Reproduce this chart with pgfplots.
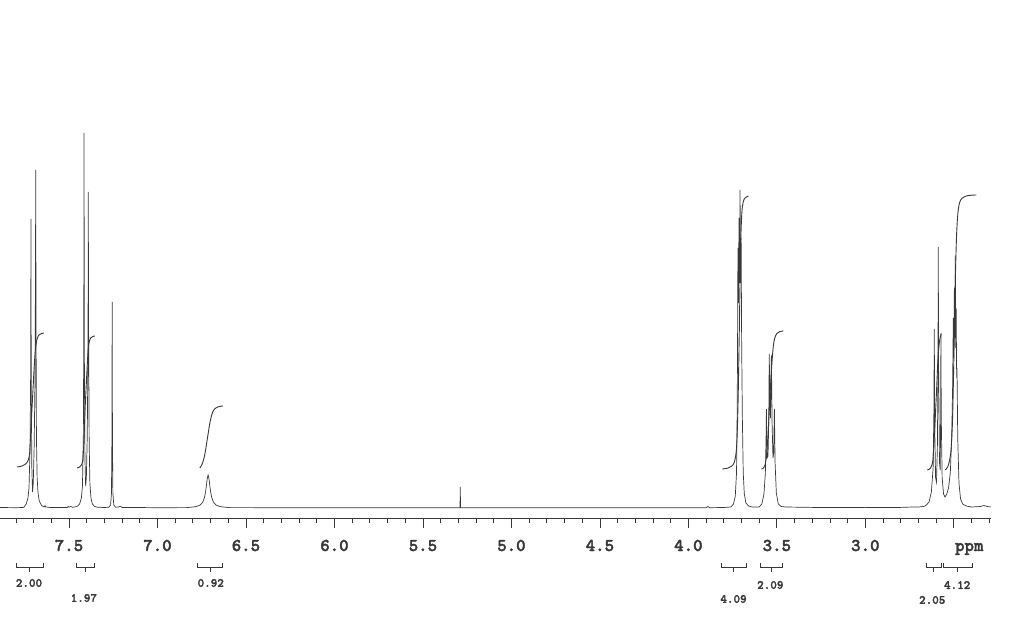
\documentclass[border=0pt]{standalone}
\usepackage{fontspec}
\usepackage{pgfplots}
\pgfplotsset{compat=1.18}
\newfontfamily\monob{lmmonolt10-bold}[Extension=.otf, FakeBold=2]
\definecolor{ink}{gray}{0.22}

\begin{document}
\begin{tikzpicture}
\path[use as bounding box] (0,-111pt) rectangle (1024pt,518pt);
\begin{axis}[
    at={(0,0)}, anchor=south west,
    scale only axis,
    width=991pt, height=518pt,
    x dir=reverse,
    xmin=2.29, xmax=7.89,
    ymin=0, ymax=518,
    axis x line*=bottom,
    axis y line=none,
    ytick=\empty,
    clip=false,
    x axis line style={ink, line width=0.9pt},
    tick align=outside,
    major tick length=10pt,
    minor tick length=5pt,
    tick style={ink, line width=0.8pt},
    xtick={2.5,3.0,3.5,4.0,4.5,5.0,5.5,6.0,6.5,7.0,7.5},
    xticklabels={,3.0,3.5,4.0,4.5,5.0,5.5,6.0,6.5,7.0,7.5},
    minor xtick={2.3,2.4,2.6,2.7,2.8,2.9,3.1,3.2,3.3,3.4,3.6,3.7,3.8,3.9,4.1,4.2,4.3,4.4,4.6,4.7,4.8,4.9,5.1,5.2,5.3,5.4,5.6,5.7,5.8,5.9,6.1,6.2,6.3,6.4,6.6,6.7,6.8,6.9,7.1,7.2,7.3,7.4,7.6,7.7,7.8},
    xticklabel style={font=\monob\fontsize{18}{18}\selectfont, text=ink, anchor=base, yshift=-23pt},
]
% spectrum
\addplot[ink, line width=0.7pt] coordinates {
(7.89,10.5)(7.80,10.3)(7.76,10.5)(7.754,11)(7.742,14)(7.732,20)(7.726,30)(7.720,70)(7.7165,150)(7.715,299)(7.7135,140)(7.710,50)(7.706,26)(7.702,35)(7.697,70)(7.692,140)(7.6895,240)(7.688,348)(7.6865,200)(7.684,80)(7.680,40)(7.675,25)(7.668,17)(7.655,12.5)(7.640,11)(7.636,12.5)(7.632,11)(7.600,10.4)(7.510,10.6)(7.505,11.5)(7.500,10.8)(7.490,11.5)(7.480,10.7)(7.470,11)
(7.455,11.5)(7.440,14)(7.430,20)(7.424,32)(7.419,80)(7.4165,180)(7.415,385)(7.4135,170)(7.410,60)(7.406,32)(7.402,40)(7.397,80)(7.393,160)(7.3915,250)(7.391,326)(7.3895,200)(7.386,75)(7.382,35)(7.376,20)(7.368,14)(7.355,11.5)(7.34,10.8)(7.30,10.5)
(7.275,10.8)(7.265,13)(7.260,25)(7.2575,80)(7.256,216)(7.2545,80)(7.252,25)(7.247,13)(7.237,10.8)(7.22,11)(7.21,11.8)(7.20,10.6)(7.00,10.3)
(6.95,10.3)(6.834,10.4)(6.784,11.3)(6.759,12.9)(6.744,15.9)(6.734,20.9)(6.728,26.5)(6.724,31.9)(6.719,39.3)(6.714,43)(6.709,39.3)(6.704,31.9)(6.700,26.5)(6.694,20.9)(6.684,15.9)(6.669,12.9)(6.644,11.3)(6.594,10.4)
(6.30,10.3)(5.80,10.3)(5.30,10.2)(5.2905,10.2)(5.289,31)(5.2875,10.2)(5.00,10.2)(4.50,10.2)(4.00,10.3)(3.90,10.3)(3.89,11.5)(3.88,10.3)(3.80,10.5)
(3.76,11)(3.745,14)(3.735,22)(3.728,45)(3.724,110)(3.7215,200)(3.720,270)(3.717,215)(3.714,300)(3.711,235)(3.708,328)(3.705,235)(3.702,280)(3.699,175)(3.695,100)(3.690,45)(3.684,24)(3.675,15)(3.66,12)(3.64,11)
(3.60,11)(3.585,14)(3.573,24)(3.565,45)(3.561,80)(3.559,109)(3.5555,60)(3.550,62)(3.546,95)(3.543,164)(3.539,110)(3.536,100)(3.531,163)(3.527,95)(3.522,60)(3.518,65)(3.514,109)(3.510,55)(3.503,25)(3.492,14)(3.475,11.5)(3.45,11)
(3.30,10.6)(3.00,10.4)(2.80,10.6)(2.75,10.9)(2.70,11)(2.67,11.5)(2.655,13)(2.640,16)(2.627,26)(2.617,50)(2.6125,110)(2.6105,189)(2.608,90)(2.603,40)(2.598,36)(2.593,70)(2.5895,150)(2.588,271)(2.586,150)(2.581,55)(2.577,48)(2.5745,100)(2.573,185)(2.571,100)(2.566,40)(2.558,24)(2.550,21)
(2.540,24)(2.530,30)(2.520,45)(2.512,80)(2.507,130)(2.503,200)(2.500,160)(2.497,230)(2.494,180)(2.492,262)(2.489,170)(2.487,210)(2.484,140)(2.482,150)(2.478,80)(2.471,35)(2.462,19)(2.450,14)(2.43,12)(2.40,11)(2.35,11.5)(2.33,12.5)(2.31,11.5)(2.29,11)
};
% integral curves
\addplot[ink, line width=0.9pt, smooth] coordinates {
(7.794,51)(7.765,52)(7.745,54)(7.730,58)(7.722,66)(7.715,90)(7.706,120)(7.697,150)(7.690,168)(7.682,178)(7.670,183)(7.655,184.5)(7.642,185)};
\addplot[ink, line width=0.9pt, smooth] coordinates {
(7.455,50)(7.440,51)(7.430,53)(7.422,58)(7.416,75)(7.410,105)(7.402,135)(7.394,162)(7.388,174)(7.378,180)(7.365,181.5)(7.354,182)};
\addplot[ink, line width=0.9pt, smooth] coordinates {
(6.761,50)(6.750,53)(6.740,58)(6.730,66)(6.722,75)(6.714,84)(6.706,93)(6.698,100)(6.688,106)(6.675,109.5)(6.655,111.3)(6.631,112)};
\addplot[ink, line width=0.9pt, smooth] coordinates {
(3.808,49)(3.775,50)(3.755,52)(3.740,56)(3.728,70)(3.720,110)(3.712,190)(3.705,270)(3.698,305)(3.690,316)(3.680,320)(3.661,322)};
\addplot[ink, line width=0.9pt, smooth] coordinates {
(3.587,49)(3.575,50)(3.567,53)(3.560,60)(3.553,75)(3.545,100)(3.537,128)(3.528,155)(3.520,172)(3.512,180)(3.500,184.5)(3.485,186.3)(3.463,187)};
\addplot[ink, line width=0.9pt, smooth] coordinates {
(2.650,48)(2.637,49)(2.626,52)(2.618,58)(2.612,75)(2.605,100)(2.597,130)(2.590,158)(2.584,172)(2.578,180)(2.571,184)};
\addplot[ink, line width=0.9pt, smooth] coordinates {
(2.548,48)(2.535,51)(2.525,57)(2.516,68)(2.508,95)(2.502,140)(2.496,200)(2.490,250)(2.484,285)(2.477,305)(2.468,315)(2.455,319.5)(2.430,322)(2.400,322.8)(2.373,323)};
% integration brackets
\addplot[ink, line width=0.8pt] coordinates {(7.800,-45)(7.800,-49)(7.647,-49)(7.647,-45)};
\addplot[ink, line width=0.8pt] coordinates {(7.723,-49)(7.723,-54)};
\addplot[ink, line width=0.8pt] coordinates {(7.461,-45)(7.461,-49)(7.359,-49)(7.359,-45)};
\addplot[ink, line width=0.8pt] coordinates {(7.410,-49)(7.410,-54)};
\addplot[ink, line width=0.8pt] coordinates {(6.772,-45)(6.772,-49)(6.631,-49)(6.631,-45)};
\addplot[ink, line width=0.8pt] coordinates {(6.701,-49)(6.701,-54)};
\addplot[ink, line width=0.8pt] coordinates {(3.813,-45)(3.813,-49)(3.672,-49)(3.672,-45)};
\addplot[ink, line width=0.8pt] coordinates {(3.743,-49)(3.743,-54)};
\addplot[ink, line width=0.8pt] coordinates {(3.593,-45)(3.593,-49)(3.469,-49)(3.469,-45)};
\addplot[ink, line width=0.8pt] coordinates {(3.531,-49)(3.531,-54)};
\addplot[ink, line width=0.8pt] coordinates {(2.656,-45)(2.656,-49)(2.571,-49)(2.571,-45)};
\addplot[ink, line width=0.8pt] coordinates {(2.613,-49)(2.613,-54)};
\addplot[ink, line width=0.8pt] coordinates {(2.560,-45)(2.560,-49)(2.396,-49)(2.396,-45)};
\addplot[ink, line width=0.8pt] coordinates {(2.478,-49)(2.478,-54)};
% labels
\begin{scope}[every node/.style={font=\monob\fontsize{12.5}{12.5}\selectfont, text=ink, inner sep=0pt}]
\node at (axis cs:7.726,-65) {2.00};
\node at (axis cs:7.416,-80) {1.97};
\node at (axis cs:6.699,-65) {0.92};
\node at (axis cs:3.745,-81) {4.09};
\node at (axis cs:3.537,-67) {2.09};
\node at (axis cs:2.622,-82) {2.05};
\node at (axis cs:2.481,-67) {4.12};
\end{scope}
\node[font=\monob\fontsize{18}{18}\selectfont, text=ink, anchor=base, inner sep=0pt] at (axis cs:2.413,-33) {ppm};
\end{axis}
\end{tikzpicture}
\end{document}
